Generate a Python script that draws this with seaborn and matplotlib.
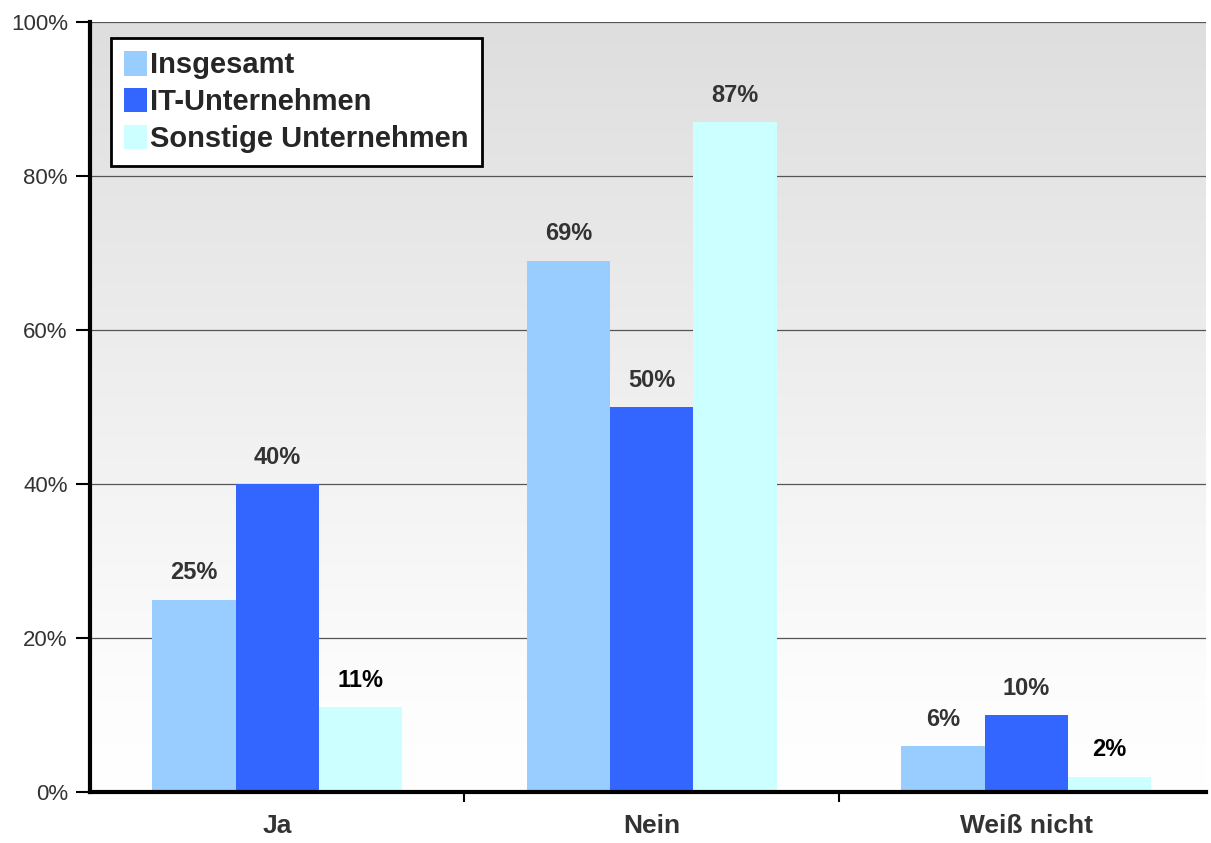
import numpy as np
import pandas as pd
import matplotlib
matplotlib.use("Agg")
import matplotlib.pyplot as plt
import seaborn as sns
from matplotlib.colors import LinearSegmentedColormap

categories = ["Ja", "Nein", "Weiß nicht"]
series = ["Insgesamt", "IT-Unternehmen", "Sonstige Unternehmen"]
insgesamt = [25, 69, 6]
it_unternehmen = [40, 50, 10]
sonstige = [11, 87, 2]
y_ticks = [0, 20, 40, 60, 80, 100]
y_tick_labels = ["0%", "20%", "40%", "60%", "80%", "100%"]

colors = ["#99CCFF", "#3366FF", "#CCFFFF"]
label_colors = [["#333333", "#333333", "#333333"],
                ["#333333", "#333333", "#333333"],
                ["#000000", "#333333", "#000000"]]

rows = []
for s, vals in zip(series, [insgesamt, it_unternehmen, sonstige]):
    for c, v in zip(categories, vals):
        rows.append({"Kategorie": c, "Serie": s, "Wert": v})
df = pd.DataFrame(rows)

sns.set_theme(style="white")
plt.rcParams["font.family"] = ["Liberation Sans", "DejaVu Sans"]

fig = plt.figure(figsize=(12.11, 8.43), dpi=100)
ax = fig.add_axes([90 / 1211, 1 - 792 / 843, 1116 / 1211, 770 / 843])

# gradient background
cmap = LinearSegmentedColormap.from_list("bg", [(0, "#ffffff"), (0.12, "#fdfdfd"), (1, "#dedede")])
grad = np.linspace(0, 1, 256).reshape(-1, 1)
ax.imshow(grad, cmap=cmap, aspect="auto", extent=(-0.5, 2.48, 0, 100),
          origin="lower", zorder=0)

sns.barplot(data=df, x="Kategorie", y="Wert", hue="Serie", order=categories,
            hue_order=series, palette=colors, width=0.667, gap=0,
            saturation=1, edgecolor="none", linewidth=0, ax=ax, zorder=3,
            legend=True)

ax.set_xlim(-0.5, 2.48)
ax.set_ylim(0, 100)
ax.set_yticks(y_ticks)
ax.set_yticklabels(y_tick_labels, fontsize=16, color="#333333")
for y in y_ticks[1:]:
    ax.axhline(y, color="#555555", lw=0.9, zorder=1)

ax.set_xticks(range(len(categories)))
ax.set_xticklabels(categories, fontsize=19, fontweight="bold", color="#333333")
ax.tick_params(axis="x", length=0, pad=16)
ax.set_xticks([0.5, 1.5], minor=True)
ax.tick_params(axis="x", which="minor", length=7, width=1.5, color="black", direction="out", bottom=True)
ax.tick_params(axis="y", length=10, width=1.5, color="black", direction="out", left=True, pad=6)
ax.set_xlabel("")
ax.set_ylabel("")

for sp in ["top", "right"]:
    ax.spines[sp].set_visible(False)
for sp in ["left", "bottom"]:
    ax.spines[sp].set_color("black")
    ax.spines[sp].set_linewidth(3)
    ax.spines[sp].set_zorder(5)

for ci, cont in enumerate(ax.containers):
    labs = [f"{int(v)}%" for v in cont.datavalues]
    texts = ax.bar_label(cont, labels=labs, padding=11, fontsize=17,
                         fontweight="bold", color="#333333")
    for ti, t in enumerate(texts):
        t.set_color(label_colors[ci][ti])
        t.set_zorder(6)

handles, labels = ax.get_legend_handles_labels()
leg = ax.legend(handles, labels, loc="upper left", bbox_to_anchor=(0.0188, 0.979),
                borderaxespad=0, frameon=True, fancybox=False,
                handlelength=0.8, handleheight=0.9, handletextpad=0.1,
                labelspacing=0.3, borderpad=0.45, prop={"weight": "bold", "size": 21})
leg.get_frame().set_edgecolor("black")
leg.get_frame().set_linewidth(2)
leg.get_frame().set_facecolor("white")
leg.get_frame().set_alpha(1)
leg.set_zorder(10)

fig.savefig("out.png", dpi=100)
